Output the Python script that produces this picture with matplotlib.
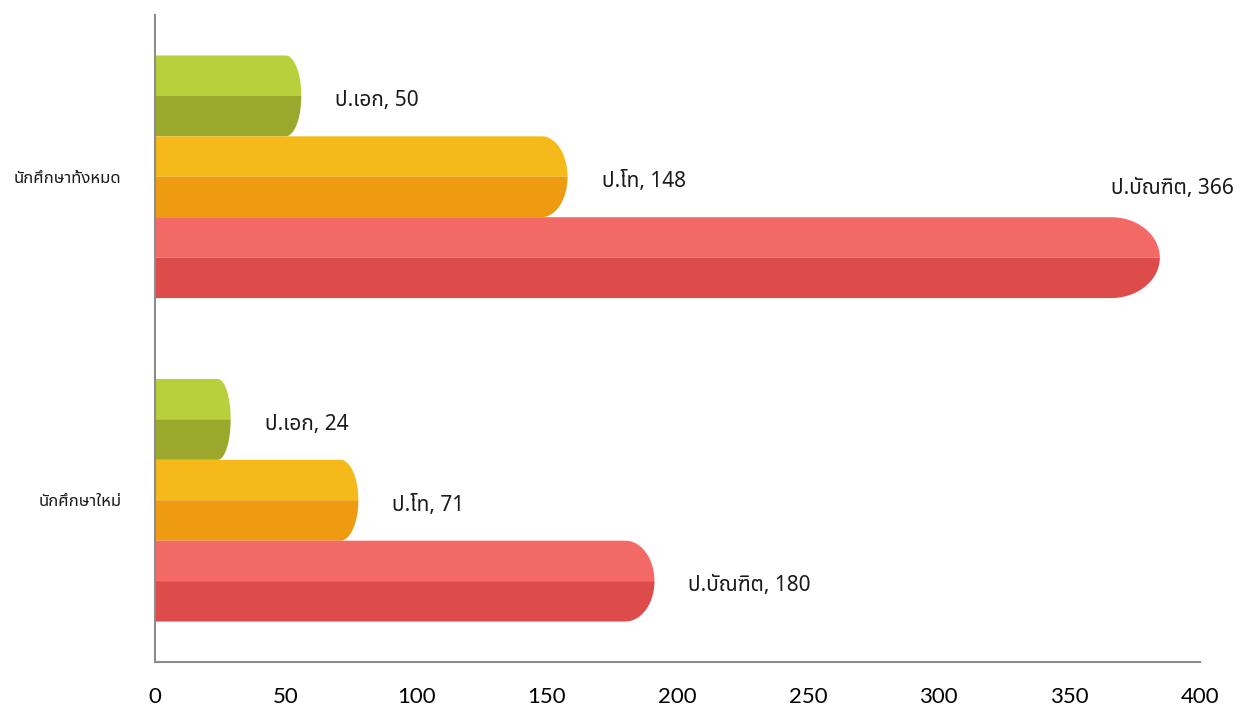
import numpy as np
import matplotlib
matplotlib.use('Agg')
import matplotlib.pyplot as plt
from matplotlib import font_manager
from matplotlib.ft2font import FT2Font

# data (bottom group first, as matplotlib y grows upwards)
groups = ['นักศึกษาใหม่', 'นักศึกษาทั้งหมด']
degrees = ['ป.เอก', 'ป.โท', 'ป.บัณฑิต']
new_students = [24, 71, 180]
all_students = [50, 148, 366]
x_ticks = [0, 50, 100, 150, 200, 250, 300, 350, 400]

light = ['#b7d03b', '#f5ba19', '#f36965']
dark = ['#9aa82b', '#ee9b11', '#dd4b4a']


def find_thai_font():
    wanted = ['Noto Sans Thai', 'Noto Sans Thai UI', 'Noto Sans Thai Looped',
              'Loma', 'Garuda', 'Norasi', 'Sarabun', 'Tahoma', 'FreeSans']
    found = []
    for f in font_manager.fontManager.ttflist:
        try:
            if 0x0E01 in FT2Font(f.fname).get_charmap():
                found.append(f.name)
        except Exception:
            pass
    for w in wanted:
        if w in found:
            return w
    if found:
        return found[0]
    return 'DejaVu Sans'


thai = find_thai_font()


def cylinder(ax, y, value, h, c_top, c_bot):
    # flat bar up to the value, then a half-ellipse end cap
    cap = 4 + 0.04 * value
    a = np.linspace(np.pi / 2, 0, 40)
    xs = np.concatenate([[0, 0], value + cap * np.cos(a)])
    ys = np.concatenate([[y, y + h / 2], y + h / 2 * np.sin(a)])
    ax.fill(xs, ys, color=c_top, lw=0)
    a = np.linspace(0, -np.pi / 2, 40)
    xs = np.concatenate([[0], value + cap * np.cos(a), [0]])
    ys = np.concatenate([[y], y + h / 2 * np.sin(a), [y - h / 2]])
    ax.fill(xs, ys, color=c_bot, lw=0)
    return cap


fig = plt.figure(figsize=(12.44, 7.09), dpi=100)
ax = fig.add_axes([0.1246, 0.0663, 0.84, 0.9125])

h = 0.25
offsets = [h, 0, -h]
for gi, vals in enumerate([new_students, all_students]):
    for i, v in enumerate(vals):
        y = gi + offsets[i]
        cap = cylinder(ax, y, v, h, light[i], dark[i])
        label = '%s, %d' % (degrees[i], v)
        if v > 300:
            ax.text(v, y + h / 2 + 0.09, label, ha='left', va='center',
                    fontsize=15, family=[thai, 'DejaVu Sans'], color='#1a1a1a')
        else:
            ax.text(v + cap + 13, y - 0.015, label, ha='left', va='center',
                    fontsize=15, family=[thai, 'DejaVu Sans'], color='#1a1a1a')

ax.set_xlim(0, 400)
ax.set_ylim(-0.5, 1.5)
ax.set_xticks(x_ticks)
ax.set_xticklabels([str(t) for t in x_ticks], family=['Lato', 'DejaVu Sans'], fontsize=16)
ax.set_yticks([0, 1])
ax.set_yticklabels(groups, family=[thai, 'DejaVu Sans'], fontsize=12)
ax.tick_params(axis='x', length=0, pad=18, colors='#000000')
ax.tick_params(axis='y', length=0, pad=24, colors='#1a1a1a')
for s in ['top', 'right']:
    ax.spines[s].set_visible(False)
for s in ['left', 'bottom']:
    ax.spines[s].set_color('#8c8c8c')
    ax.spines[s].set_linewidth(1.5)

fig.savefig('out.png', dpi=100)
